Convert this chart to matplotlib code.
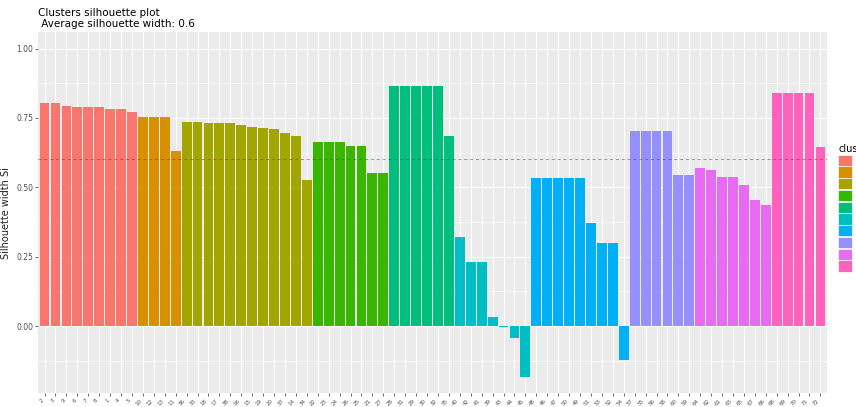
import numpy as np
import matplotlib
matplotlib.use("Agg")
import matplotlib.pyplot as plt
from matplotlib.patches import Patch
from matplotlib.ticker import MultipleLocator

# silhouette widths per cluster
c1 = [0.802, 0.802, 0.793, 0.788, 0.788, 0.788, 0.782, 0.781, 0.771]
c2 = [0.755, 0.755, 0.755, 0.632]
c3 = [0.737, 0.735, 0.732, 0.731, 0.731, 0.723, 0.716, 0.713, 0.710, 0.695, 0.686, 0.525]
c4 = [0.663, 0.663, 0.663, 0.649, 0.649, 0.553, 0.553]
c5 = [0.864, 0.864, 0.864, 0.864, 0.864, 0.683]
c6 = [0.321, 0.229, 0.229, 0.031, -0.005, -0.044, -0.183]
c7 = [0.535, 0.535, 0.535, 0.535, 0.535, 0.370, 0.300, 0.300, -0.121]
c8 = [0.702, 0.702, 0.702, 0.702, 0.545, 0.545]
c9 = [0.568, 0.562, 0.538, 0.538, 0.507, 0.455, 0.435]
c10 = [0.838, 0.838, 0.838, 0.838, 0.645]
widths = [c1, c2, c3, c4, c5, c6, c7, c8, c9, c10]

# observation labels on the x axis
obs_labels = ["2", "3", "9", "6", "7", "8", "1", "4", "5",
              "10", "12", "13", "11",
              "36", "33", "18", "17", "38", "16", "15", "19", "20", "37", "14", "34",
              "22", "23", "24", "26", "25", "21", "27",
              "28", "31", "29", "30", "32", "35",
              "40", "42", "41", "39", "43", "44", "45",
              "48", "46", "47", "50", "49", "51", "53", "52", "54",
              "57", "55", "56", "58", "60", "59",
              "64", "62", "61", "63", "65", "67", "66",
              "68", "69", "70", "71", "72"]
cluster_names = ["1", "2", "3", "4", "5", "6", "7", "8", "9", "10"]
colors = ["#F8766D", "#D89000", "#A3A500", "#39B600", "#00BF7D",
          "#00BFC4", "#00B0F6", "#9590FF", "#E76BF3", "#FF62BC"]

values = np.concatenate(widths)
bar_colors = []
for col, w in zip(colors, widths):
    bar_colors += [col] * len(w)
avg = values.mean()

fig = plt.figure(figsize=(8.56, 4.07), dpi=100)
ax = fig.add_axes([0.0444, 0.034, 0.9217, 0.887])
ax.set_facecolor("#EBEBEB")

x = np.arange(len(values))
ax.bar(x, values, width=0.9, color=bar_colors, linewidth=0, zorder=3)
ax.axhline(avg, color="red", alpha=0.55, linestyle=(0, (3, 3)), linewidth=0.7, zorder=4)

ax.set_xlim(-0.6, len(values) - 1 + 0.6)
ax.set_ylim(-0.242, 1.059)
ax.set_xticks(x)
ax.set_xticklabels(obs_labels, rotation=45, ha="right", fontsize=4, color="#4D4D4D")
ax.yaxis.set_minor_locator(MultipleLocator(0.125))
ax.set_yticks([0, 0.25, 0.5, 0.75, 1.0])
ax.set_yticklabels(["0.00", "0.25", "0.50", "0.75", "1.00"], fontsize=5.5, color="#4D4D4D")
ax.tick_params(axis="both", which="major", length=2.5, width=0.5, color="#333333", pad=1)
ax.tick_params(axis="y", which="minor", length=0)

ax.grid(True, which="major", color="white", linewidth=0.8, zorder=0)
ax.grid(True, which="minor", axis="y", color="white", linewidth=0.4, zorder=0)
ax.set_axisbelow(True)
for s in ax.spines.values():
    s.set_visible(False)

ax.set_ylabel("Silhouette width Si", fontsize=7, color="#222222", labelpad=4)
ax.set_title("Clusters silhouette plot \n Average silhouette width: %s" % round(avg, 2),
             loc="left", fontsize=7.5, pad=4, linespacing=1.1)

handles = [Patch(facecolor=c, edgecolor="white", linewidth=0.5) for c in colors]
leg = ax.legend(handles, cluster_names, title="cluster", loc="upper left",
                bbox_to_anchor=(1.01, 0.70), frameon=False, fontsize=6.5,
                title_fontsize=7, handlelength=1.5, handleheight=1.55,
                labelspacing=0.05, handletextpad=0.4, borderaxespad=0)
leg._legend_box.align = "left"

plt.savefig("out.png", dpi=100)
